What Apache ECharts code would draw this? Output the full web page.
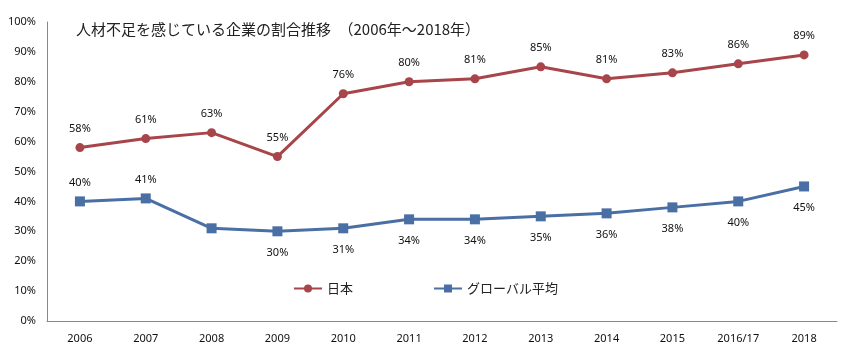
<!DOCTYPE html>
<html><head><meta charset="utf-8">
<script src="https://cdn.jsdelivr.net/npm/echarts@6/dist/echarts.min.js"></script>
<style>html,body{margin:0;padding:0;background:#fff}#c{width:853px;height:356px}</style>
</head><body><div id="c"></div>
<script>
const categories = ['2006','2007','2008','2009','2010','2011','2012','2013','2014','2015','2016/17','2018'];
const japan = [58,61,63,55,76,80,81,85,81,83,86,89];
const globalAvg = [40,41,31,30,31,34,34,35,36,38,40,45];
const globalLabelShown = [true,true,false,true,true,true,true,true,true,true,true,true];
const globalLabelAbove = [true,true,false,false,false,false,false,false,false,false,false,false];
const titleText = '人材不足を感じている企業の割合推移　（2006年～2018年）';
const seriesNames = ['日本','グローバル平均'];

const chart = echarts.init(document.getElementById('c'));
const numFont = '"Noto Sans", sans-serif';
const jpFont = '"Noto Sans CJK JP", sans-serif';
chart.setOption({
  animation:false,
  title:{text:titleText,left:71,top:17,textStyle:{fontFamily:jpFont,fontSize:15,fontWeight:'normal',color:'#222'}},
  legend:{left:288,top:277,itemGap:80,itemWidth:28,itemHeight:10,itemStyle:{},
    textStyle:{fontFamily:jpFont,fontSize:13,color:'#222'},
    data:seriesNames},
  grid:{left:47,right:16,top:22,bottom:35},
  xAxis:{type:'category',data:categories,boundaryGap:true,
    axisLine:{lineStyle:{color:'#888'}},
    axisTick:{inside:true,length:5,lineStyle:{color:'#888'}},
    axisLabel:{fontFamily:numFont,fontSize:11,color:'#111',margin:12}},
  yAxis:{type:'value',min:0,max:100,interval:10,
    axisLine:{show:true,lineStyle:{color:'#888'}},axisTick:{show:false},splitLine:{show:false},
    axisLabel:{formatter:'{value}%',fontFamily:numFont,fontSize:11,color:'#111',margin:11}},
  series:[
    {name:seriesNames[0],type:'line',data:japan,symbol:'circle',symbolSize:9,
      lineStyle:{width:3,color:'#A8454A'},itemStyle:{color:'#A8454A'},
      label:{show:true,position:'top',distance:9,formatter:'{c}%',fontFamily:numFont,fontSize:11,color:'#111'}},
    {name:seriesNames[1],type:'line',symbol:'rect',symbolSize:10,
      lineStyle:{width:3,color:'#4A6FA5'},itemStyle:{color:'#4A6FA5'},
      data:globalAvg.map((v,i)=>({value:v,label:{show:globalLabelShown[i],position:globalLabelAbove[i]?'top':'bottom',distance:globalLabelAbove[i]?8:11}})),
      label:{formatter:'{c}%',fontFamily:numFont,fontSize:11,color:'#111'}}
  ]
});
</script></body></html>
